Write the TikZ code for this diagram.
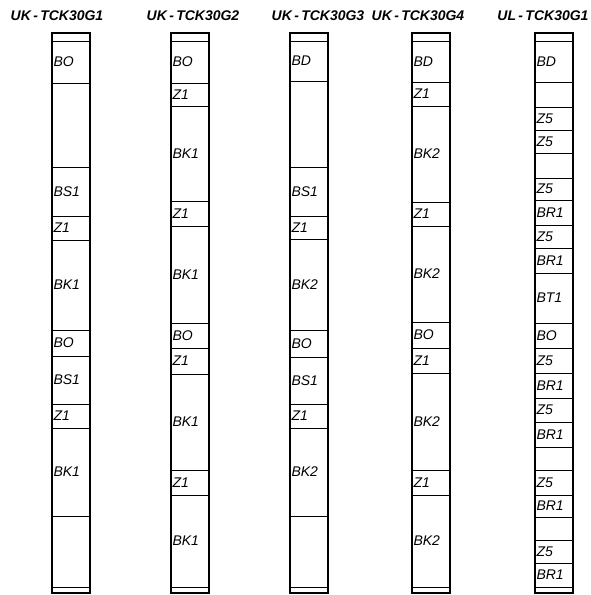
\documentclass[tikz,border=0pt]{standalone}
\usepackage{fontspec}
\setsansfont{Liberation Sans}
\usetikzlibrary{positioning,fit}
\tikzset{
  seg/.style={
    draw=black,
    line width=1pt,
    minimum width=38pt,
    text width=35pt,
    align=left,
    inner xsep=1.5pt,
    inner ysep=0pt,
    outer sep=0pt,
    font=\sffamily\itshape\fontsize{14}{14}\selectfont
  },
  colbox/.style={draw=black, line width=2pt, inner sep=0pt},
  coltitle/.style={font=\sffamily\bfseries\itshape\fontsize{14}{14}\selectfont, inner sep=0pt}
}

\begin{document}
\begin{tikzpicture}[x=1pt,y=-1pt]
\useasboundingbox (0,0) rectangle (590,595);

% titles
\node[coltitle] (t1) at (57,16) {UK\,-\,TCK30G1};
\node[coltitle] (t2) at (193,16) {UK\,-\,TCK30G2};
\node[coltitle] (t3) at (318,16) {UK\,-\,TCK30G3};
\node[coltitle] (t4) at (418,16) {UK\,-\,TCK30G4};
\node[coltitle] (t5) at (543,16) {UL\,-\,TCK30G1};

% column 1
\node[seg, minimum height=8pt, anchor=north] (a-0) at (71,33) {};
\foreach \h/\t [count=\i, remember=\i as \j (initially 0)] in
  {42/BO, 84/{}, 49/BS1, 24/Z1, 90/BK1, 26/BO, 48/BS1, 24/Z1, 88/BK1, 71/{}, 6/{}}
  \node[seg, minimum height=\h pt, below=0pt of a-\j] (a-\i) {\t};
\node[colbox, fit=(a-0)(a-11)] (a-box) {};

% column 2
\node[seg, minimum height=8pt, anchor=north] (b-0) at (190,33) {};
\foreach \h/\t [count=\i, remember=\i as \j (initially 0)] in
  {42/BO, 23/Z1, 95/BK1, 25/Z1, 97/BK1, 25/BO, 26/Z1, 96/BK1, 25/Z1, 92/BK1, 6/{}}
  \node[seg, minimum height=\h pt, below=0pt of b-\j] (b-\i) {\t};
\node[colbox, fit=(b-0)(b-11)] (b-box) {};

% column 3
\node[seg, minimum height=8pt, anchor=north] (c-0) at (309,33) {};
\foreach \h/\t [count=\i, remember=\i as \j (initially 0)] in
  {40/BD, 86/{}, 49/BS1, 23/Z1, 91/BK2, 27/BO, 47/BS1, 24/Z1, 88/BK2, 71/{}, 6/{}}
  \node[seg, minimum height=\h pt, below=0pt of c-\j] (c-\i) {\t};
\node[colbox, fit=(c-0)(c-11)] (c-box) {};

% column 4
\node[seg, minimum height=8pt, anchor=north] (d-0) at (431,33) {};
\foreach \h/\t [count=\i, remember=\i as \j (initially 0)] in
  {41/BD, 24/Z1, 96/BK2, 24/Z1, 96/BK2, 26/BO, 25/Z1, 97/BK2, 25/Z1, 92/BK2, 6/{}}
  \node[seg, minimum height=\h pt, below=0pt of d-\j] (d-\i) {\t};
\node[colbox, fit=(d-0)(d-11)] (d-box) {};

% column 5
\node[seg, minimum height=8pt, anchor=north] (e-0) at (554,33) {};
\foreach \h/\t [count=\i, remember=\i as \j (initially 0)] in
  {41/BD, 25/{}, 23/Z5, 23/Z5, 25/{}, 22/Z5, 25/BR1, 23/Z5, 25/BR1, 50/BT1, 25/BO,
   25/Z5, 25/BR1, 24/Z5, 25/BR1, 23/{}, 25/Z5, 22/BR1, 23/{}, 23/Z5, 24/BR1, 6/{}}
  \node[seg, minimum height=\h pt, below=0pt of e-\j] (e-\i) {\t};
\node[colbox, fit=(e-0)(e-22)] (e-box) {};
\end{tikzpicture}
\end{document}
